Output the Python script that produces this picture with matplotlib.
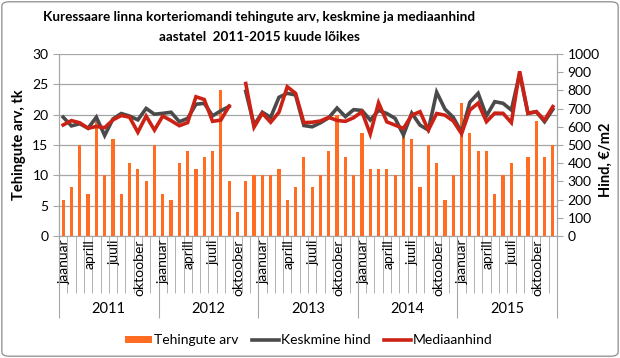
import matplotlib
matplotlib.use("Agg")
import matplotlib.pyplot as plt
import numpy as np
from matplotlib.lines import Line2D
from matplotlib.patches import FancyBboxPatch, Patch

plt.rcParams["font.family"] = ["Lato", "DejaVu Sans"]

YEARS = ["2011", "2012", "2013", "2014", "2015"]
MONTH_LABELS = ["jaanuar", "", "", "aprill", "", "", "juuli", "", "", "oktoober", "", ""]

# tehingute arv, tk
deals = [
    6, 8, 15, 7, 19, 10, 16, 7, 12, 11, 9, 15,
    7, 6, 12, 14, 11, 13, 14, 24, 9, 4, 9, 10,
    10, 10, 11, 6, 8, 13, 8, 10, 14, 20, 13, 10,
    17, 11, 11, 11, 10, 17, 16, 8, 15, 12, 6, 10,
    22, 17, 14, 14, 7, 10, 12, 6, 13, 19, 13, 15,
]

# keskmine hind, EUR/m2 (oktoober 2012 puudub)
mean_price = [
    653, 605, 617, 592, 653, 552, 643, 673, 659, 638, 701, 669,
    674, 680, 628, 646, 724, 729, 660, 688, 712, np.nan, 795, 609,
    680, 652, 762, 784, 775, 607, 600, 622, 650, 703, 656, 694,
    690, 637, 690, 673, 646, 555, 675, 609, 582, 790, 697, 652,
    570, 735, 784, 660, 738, 729, 692, 892, 674, 683, 628, 696,
]

# mediaanhind, EUR/m2
median_price = [
    610, 634, 622, 592, 602, 595, 638, 662, 653, 570, 659, 582,
    659, 634, 606, 623, 765, 750, 630, 637, 714, np.nan, 838, 598,
    674, 625, 680, 820, 784, 623, 625, 632, 652, 635, 630, 650,
    683, 560, 732, 627, 609, 591, 664, 683, 582, 673, 664, 632,
    562, 692, 730, 628, 675, 674, 623, 905, 674, 683, 637, 711,
]

BAR_COLOR = "#FF6C22"
MEAN_COLOR = "#4A4A4A"
MEDIAN_COLOR = "#CC2216"
GRID_COLOR = "#A6A6A6"

fig = plt.figure(figsize=(6.2, 3.58), dpi=100)
ax = fig.add_axes([59 / 620, 1 - 236 / 358, 498 / 620, 182 / 358])
ax2 = ax.twinx()

x = np.arange(len(deals))
ax.bar(x, deals, width=0.38, color=BAR_COLOR, zorder=2)
ax2.plot(x, mean_price, color=MEAN_COLOR, lw=2.6, solid_joinstyle="miter")
ax2.plot(x, median_price, color=MEDIAN_COLOR, lw=2.6, solid_joinstyle="miter")

ax.set_xlim(-0.5, len(deals) - 0.5)
ax.set_ylim(0, 30)
ax.set_yticks(range(0, 31, 5))
ax2.set_ylim(0, 1000)
ax2.set_yticks(range(0, 1001, 100))

ax.grid(axis="y", color=GRID_COLOR, lw=0.9)
ax.set_axisbelow(True)

for a in (ax, ax2):
    a.spines["top"].set_visible(False)
    for side in ("left", "right", "bottom"):
        a.spines[side].set_color(GRID_COLOR)
ax.tick_params(axis="y", colors=GRID_COLOR, labelcolor="black", labelsize=10, length=4)
ax2.tick_params(axis="y", colors=GRID_COLOR, labelcolor="black", labelsize=10, length=4)

# multi-level category axis
ax.set_xticks(np.arange(-0.5, len(deals), 12))
ax.set_xticks(np.arange(-0.5, len(deals), 1), minor=True)
ax.tick_params(axis="x", which="major", length=59, color=GRID_COLOR, labelbottom=False)
ax.tick_params(axis="x", which="minor", length=41, color=GRID_COLOR, labelbottom=False)

tr = ax.get_xaxis_transform()
for i in range(len(deals)):
    lab = MONTH_LABELS[i % 12]
    if lab:
        ax.text(i + 0.15, -0.02, lab, transform=tr, rotation=90, ha="center",
                va="top", fontsize=10)
for k, yr in enumerate(YEARS):
    ax.text(k * 12 + 5.5, -0.40, yr, transform=tr, ha="center", va="center",
            fontsize=10.5)

ax.set_ylabel("Tehingute arv, tk", fontsize=10.5, fontweight="bold")
ax.yaxis.set_label_coords(-0.066, 0.5)
ax2.set_ylabel("Hind, €/m2", fontsize=10.5, fontweight="bold")
ax2.yaxis.set_label_coords(1.084, 0.42)

fig.text(259 / 620, 1 - 17 / 358, "Kuressaare linna korteriomandi tehingute arv, keskmine ja mediaanhind",
         ha="center", va="center", fontsize=9.7, fontweight="bold")
fig.text(259 / 620, 1 - 37 / 358, "aastatel  2011-2015 kuude lõikes",
         ha="center", va="center", fontsize=9.7, fontweight="bold")

handles = [
    Patch(facecolor=BAR_COLOR, edgecolor="none"),
    Line2D([], [], color=MEAN_COLOR, lw=2.6),
    Line2D([], [], color=MEDIAN_COLOR, lw=2.6),
]
fig.legend(handles, ["Tehingute arv", "Keskmine hind", "Mediaanhind"],
           loc="center", bbox_to_anchor=(309 / 620, 1 - 340 / 358), ncol=3,
           frameon=False, fontsize=10, handlelength=1.9, handleheight=0.4,
           handletextpad=0.15, columnspacing=1.0)

border = FancyBboxPatch((0.003, 0.005), 0.994, 0.99, boxstyle="round,pad=0,rounding_size=0.012",
                        transform=fig.transFigure, facecolor="none", edgecolor="#8C8C8C", lw=0.9)
fig.patches.append(border)

fig.savefig("out.png", dpi=100)
